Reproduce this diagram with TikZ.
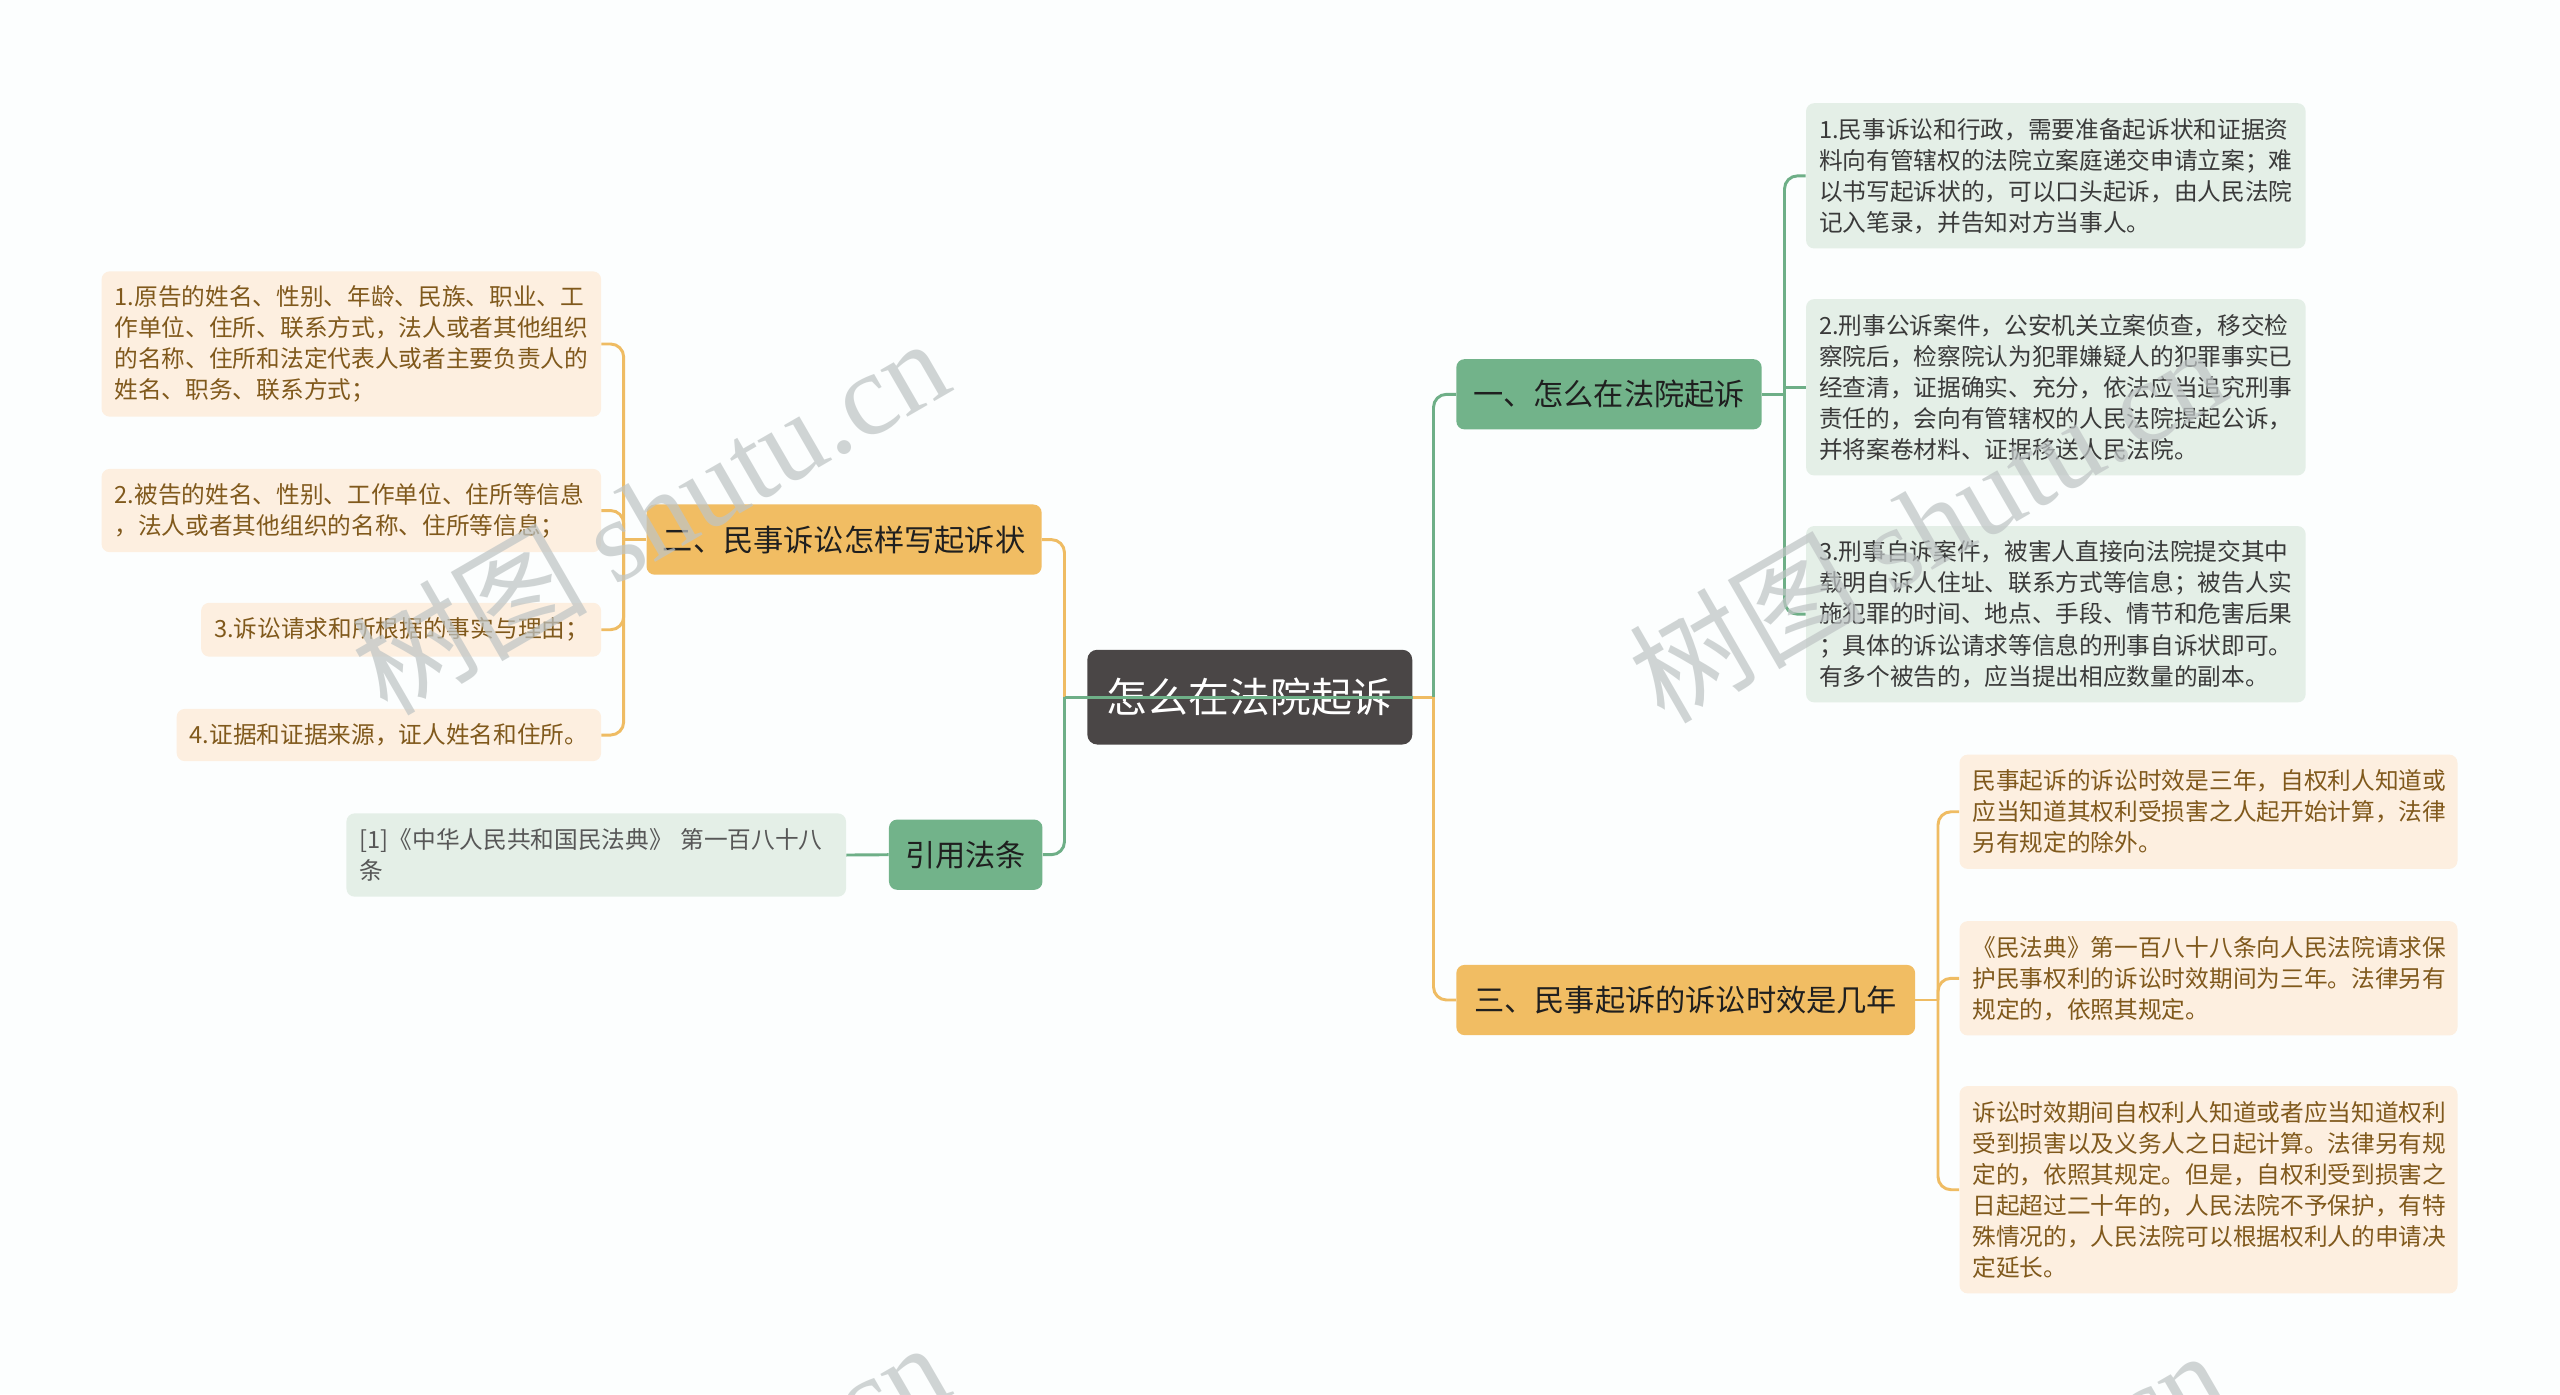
\documentclass[tikz,border=0pt]{standalone}
\usepackage{fontspec}
\setmainfont{Noto Sans CJK SC}
\newfontfamily\wmlatin{Liberation Serif}
\definecolor{bgc}{HTML}{FCFEFE}
\definecolor{rootc}{HTML}{4A4646}
\definecolor{gnode}{HTML}{72B38A}
\definecolor{onode}{HTML}{F1BD63}
\definecolor{gleaf}{HTML}{E4EFE7}
\definecolor{oleaf}{HTML}{FDEFE0}
\definecolor{glinec}{HTML}{6EAF87}
\definecolor{olinec}{HTML}{EFBC63}
\definecolor{otext}{HTML}{80591C}
\definecolor{gtext}{HTML}{3A3A3A}
\definecolor{wmc}{HTML}{BFC5C5}
\tikzset{
 rootbox/.style={fill=rootc, text=white, rounded corners=6pt, minimum width=199pt, minimum height=58pt, inner sep=0pt, font=\fontsize{25}{30}\selectfont},
 mainbox/.style={rounded corners=5pt, minimum height=43pt, inner xsep=10pt, inner ysep=0pt, text=black!88, font=\fontsize{18.5}{22}\selectfont},
 gmain/.style={mainbox, fill=gnode},
 omain/.style={mainbox, fill=onode},
 leafbox/.style={rounded corners=5pt, inner xsep=8pt, inner ysep=0pt, align=left, anchor=north west, font=\fontsize{14.5}{19}\selectfont},
 gleafbox/.style={leafbox, fill=gleaf, text=gtext},
 oleafbox/.style={leafbox, fill=oleaf, text=otext},
 gconn/.style={draw=glinec, line width=1.8pt, rounded corners=8pt},
 oconn/.style={draw=olinec, line width=1.8pt, rounded corners=8pt},
 wmark/.style={text=wmc, text opacity=0.72, rotate=30, inner sep=0pt, font=\fontsize{72}{80}\selectfont}
}
\begin{document}
\begin{tikzpicture}[x=1pt,y=-1pt]
\fill[bgc] (0,0) rectangle (1568,854);
\useasboundingbox (0,0) rectangle (1568,854);

% root and main branches
\node[rootbox] (root) at (765.5,427) {怎么在法院起诉};
\node[gmain, minimum width=187pt] (n1) at (985.5,241.5) {一、怎么在法院起诉};
\node[omain, minimum width=281pt] (n3) at (1032.5,612.5) {三、民事起诉的诉讼时效是几年};
\node[omain, minimum width=242pt] (n2) at (517,330.5) {二、民事诉讼怎样写起诉状};
\node[gmain, minimum width=93pt] (n4) at (591.5,523.5) {引用法条};

% leaves of 一
\node[gleafbox, text width=290pt, minimum height=89pt] (l1) at (1106,63) {1.民事诉讼和行政，需要准备起诉状和证据资\\料向有管辖权的法院立案庭递交申请立案；难\\以书写起诉状的，可以口头起诉，由人民法院\\记入笔录，并告知对方当事人。};
\node[gleafbox, text width=290pt, minimum height=108pt] (l2) at (1106,183) {2.刑事公诉案件，公安机关立案侦查，移交检\\察院后，检察院认为犯罪嫌疑人的犯罪事实已\\经查清，证据确实、充分，依法应当追究刑事\\责任的，会向有管辖权的人民法院提起公诉，\\并将案卷材料、证据移送人民法院。};
\node[gleafbox, text width=290pt, minimum height=108pt] (l3) at (1106,322) {3.刑事自诉案件，被害人直接向法院提交其中\\载明自诉人住址、联系方式等信息；被告人实\\施犯罪的时间、地点、手段、情节和危害后果\\；具体的诉讼请求等信息的刑事自诉状即可。\\有多个被告的，应当提出相应数量的副本。};

% leaves of 三
\node[oleafbox, text width=289pt, minimum height=70pt] (r1) at (1200,462) {民事起诉的诉讼时效是三年，自权利人知道或\\应当知道其权利受损害之人起开始计算，法律\\另有规定的除外。};
\node[oleafbox, text width=289pt, minimum height=70pt] (r2) at (1200,564) {《民法典》第一百八十八条向人民法院请求保\\护民事权利的诉讼时效期间为三年。法律另有\\规定的，依照其规定。};
\node[oleafbox, text width=289pt, minimum height=127pt] (r3) at (1200,665) {诉讼时效期间自权利人知道或者应当知道权利\\受到损害以及义务人之日起计算。法律另有规\\定的，依照其规定。但是，自权利受到损害之\\日起超过二十年的，人民法院不予保护，有特\\殊情况的，人民法院可以根据权利人的申请决\\定延长。};

% leaves of 二
\node[oleafbox, text width=290pt, minimum height=89pt] (a1) at (62,166) {1.原告的姓名、性别、年龄、民族、职业、工\\作单位、住所、联系方式，法人或者其他组织\\的名称、住所和法定代表人或者主要负责人的\\姓名、职务、联系方式；};
\node[oleafbox, text width=290pt, minimum height=51pt] (a2) at (62,287) {2.被告的姓名、性别、工作单位、住所等信息\\，法人或者其他组织的名称、住所等信息；};
\node[oleafbox, text width=229pt, minimum height=33pt] (a3) at (123,369) {3.诉讼请求和所根据的事实与理由；};
\node[oleafbox, text width=244pt, minimum height=32pt] (a4) at (108,434) {4.证据和证据来源，证人姓名和住所。};

% leaf of 引用法条
\node[gleafbox, text=gtext!85, text width=290pt, minimum height=51pt] (cl) at (212,498) {[1]《中华人民共和国民法典》 第一百八十八\\条};

% junctions
\coordinate (lj) at (652,427);
\coordinate (rj) at (878,427);
\coordinate (j1) at (1093,241.5);
\coordinate (j3) at (1187,612.5);
\coordinate (j2) at (382,330.5);

% connectors from root
\draw[oconn] (lj) |- (n2.east);
\draw[gconn] (lj) |- (n4.east);
\draw[gconn] (root.east) -- (lj);
\draw[oconn] (root.east) -- (rj);
\draw[gconn] (rj) |- (n1.west);
\draw[oconn] (rj) |- (n3.west);

% connectors of 一
\draw[gconn] (n1.east) -- (j1);
\draw[gconn] (l1.west) -| (j1) |- (l3.west);
\draw[gconn] (j1 |- l2.west) -- (l2.west);

% connectors of 三
\draw[oconn] (n3.east) -- (j3);
\draw[oconn] (j3) |- (r1.west);
\draw[oconn] (j3) |- (r2.west);
\draw[oconn] (j3) |- (r3.west);

% connectors of 二
\draw[oconn] (n2.west) -- (j2);
\draw[oconn] (j2) |- (a1.east);
\draw[oconn] (j2) |- (a2.east);
\draw[oconn] (j2) |- (a3.east);
\draw[oconn] (j2) |- (a4.east);

% connector of 引用法条
\draw[gconn] (n4.west) -- (cl.east);

% watermarks
\begin{scope}
\clip (0,0) rectangle (1568,854);
\node[wmark] (wm1) at (398,315) {树图 {\wmlatin shutu.cn}};
\node[wmark] (wm2) at (1180,320) {树图 {\wmlatin shutu.cn}};
\node[wmark] (wm3) at (398,930) {树图 {\wmlatin shutu.cn}};
\node[wmark] (wm4) at (1180,935) {树图 {\wmlatin shutu.cn}};
\end{scope}
\end{tikzpicture}
\end{document}
